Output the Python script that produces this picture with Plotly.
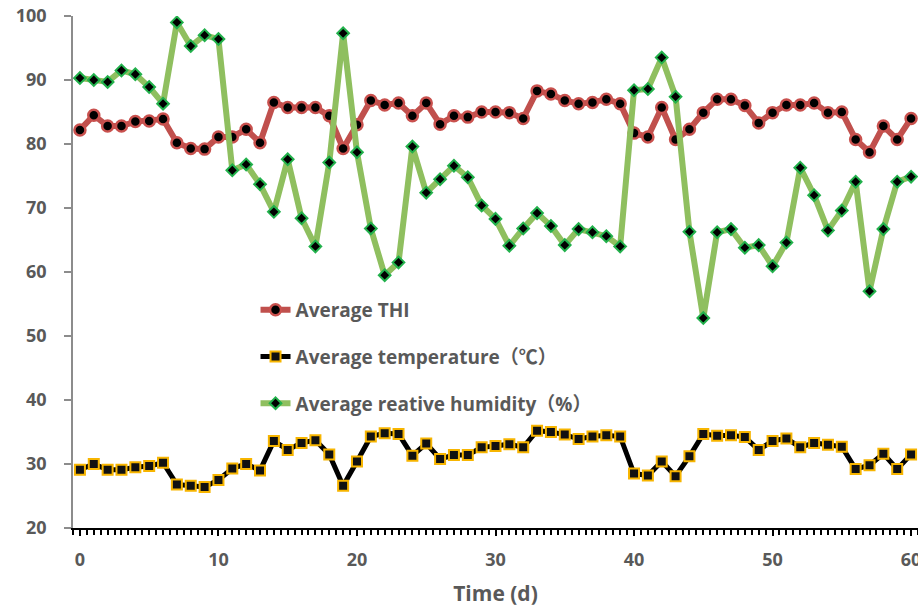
import plotly.graph_objects as go

days = list(range(0, 61))

thi = [82.2, 84.5, 82.8, 82.8, 83.5, 83.6, 83.9, 80.2, 79.3, 79.2,
       81.1, 81.1, 82.3, 80.2, 86.5, 85.7, 85.7, 85.7, 84.4, 79.3,
       83.0, 86.8, 86.1, 86.4, 84.4, 86.4, 83.1, 84.4, 84.2, 85.0,
       85.0, 84.9, 84.0, 88.3, 87.8, 86.8, 86.3, 86.5, 87.0, 86.3,
       81.7, 81.1, 85.7, 80.7, 82.3, 84.9, 87.0, 87.0, 86.0, 83.3,
       84.9, 86.1, 86.1, 86.4, 84.9, 85.0, 80.7, 78.7, 82.8, 80.7,
       84.0]

temperature = [29.1, 30.0, 29.1, 29.1, 29.5, 29.7, 30.2, 26.8, 26.6, 26.4,
               27.5, 29.3, 30.0, 29.0, 33.6, 32.2, 33.3, 33.7, 31.5, 26.6,
               30.4, 34.3, 34.8, 34.7, 31.3, 33.2, 30.8, 31.4, 31.4, 32.6,
               32.8, 33.1, 32.6, 35.2, 35.0, 34.6, 33.9, 34.3, 34.5, 34.3,
               28.5, 28.2, 30.4, 28.1, 31.2, 34.7, 34.4, 34.5, 34.2, 32.2,
               33.6, 34.0, 32.6, 33.3, 33.0, 32.7, 29.2, 29.8, 31.6, 29.2,
               31.5]

humidity = [90.3, 90.0, 89.7, 91.5, 90.9, 88.9, 86.3, 99.0, 95.3, 97.0,
            96.4, 75.9, 76.8, 73.7, 69.4, 77.6, 68.4, 64.0, 77.1, 97.3,
            78.7, 66.8, 59.5, 61.5, 79.6, 72.4, 74.5, 76.6, 74.8, 70.4,
            68.3, 64.1, 66.8, 69.2, 67.2, 64.2, 66.7, 66.2, 65.6, 64.0,
            88.4, 88.6, 93.5, 87.4, 66.3, 52.8, 66.2, 66.7, 63.8, 64.2,
            60.9, 64.6, 76.3, 72.0, 66.5, 69.6, 74.1, 57.0, 66.7, 74.1,
            74.9]

x_tickvals = [0, 10, 20, 30, 40, 50, 60]
x_ticktext = ["0", "10", "20", "30", "40", "50", "60"]
y_tickvals = [20, 30, 40, 50, 60, 70, 80, 90, 100]

names = ["Average THI", "Average temperature（℃）", "Average reative humidity（%）"]

FONT = "Open Sans, Noto Sans CJK SC, sans-serif"
GRAY = "#595959"

fig = go.Figure()

fig.add_trace(go.Scatter(
    x=days, y=thi, name=names[0], mode="lines+markers", legendgroup="a",
    line=dict(color="#C0504D", width=6),
    marker=dict(symbol="circle", size=11, color="black",
                line=dict(color="#C9514E", width=2.5)),
))
fig.add_trace(go.Scatter(
    x=days, y=temperature, name=names[1], mode="lines+markers", legendgroup="b",
    line=dict(color="black", width=5),
    marker=dict(symbol="square", size=10, color="#111111",
                line=dict(color="#F7B500", width=2)),
))
fig.add_trace(go.Scatter(
    x=days, y=humidity, name=names[2], mode="lines+markers", legendgroup="c",
    line=dict(color="#8FBF5F", width=6),
    marker=dict(symbol="diamond", size=9, color="black",
                line=dict(color="#22B14C", width=2)),
))

fig.update_layout(
    width=918, height=611,
    margin=dict(l=73, r=0, t=16, b=83, autoexpand=False),
    paper_bgcolor="white", plot_bgcolor="white",
    font=dict(family=FONT, color=GRAY),
    showlegend=True,
    legend=dict(
        x=0.216, y=0.463, xanchor="left", yanchor="top",
        bgcolor="rgba(0,0,0,0)", borderwidth=0,
        font=dict(family=FONT, size=19, color=GRAY, weight="bold"),
        tracegroupgap=19, traceorder="grouped",
    ),
    xaxis=dict(
        range=[-0.5, 60.5], showgrid=False, zeroline=False, automargin=False,
        showline=True, linecolor="black", linewidth=2,
        tickmode="array", tickvals=x_tickvals, ticktext=x_ticktext,
        ticks="outside", ticklen=6, tickwidth=1.5, tickcolor="black",
        minor=dict(tickmode="linear", tick0=-0.5, dtick=0.5, ticks="outside",
                   ticklen=5, tickwidth=1.5, tickcolor="black"),
        tickfont=dict(family=FONT, size=18, color=GRAY, weight="bold"),
        ticklabelstandoff=8, ticklabeloverflow="allow",
        title=dict(text="Time (d)", standoff=17,
                   font=dict(family=FONT, size=21, color=GRAY, weight="bold")),
    ),
    yaxis=dict(
        range=[20, 100], showgrid=False, zeroline=False, automargin=False,
        showline=True, linecolor="#8C8C8C", linewidth=1.5,
        tickmode="array", tickvals=y_tickvals,
        ticks="outside", ticklen=7, tickwidth=1.5, tickcolor="#8C8C8C",
        tickfont=dict(family=FONT, size=18, color=GRAY, weight="bold"),
        ticklabelstandoff=14, ticklabeloverflow="allow",
    ),
)

fig.write_html(
    "out.html",
    config={"displayModeBar": False},
    post_script="document.body.style.margin='0';document.body.style.overflow='hidden';",
)
